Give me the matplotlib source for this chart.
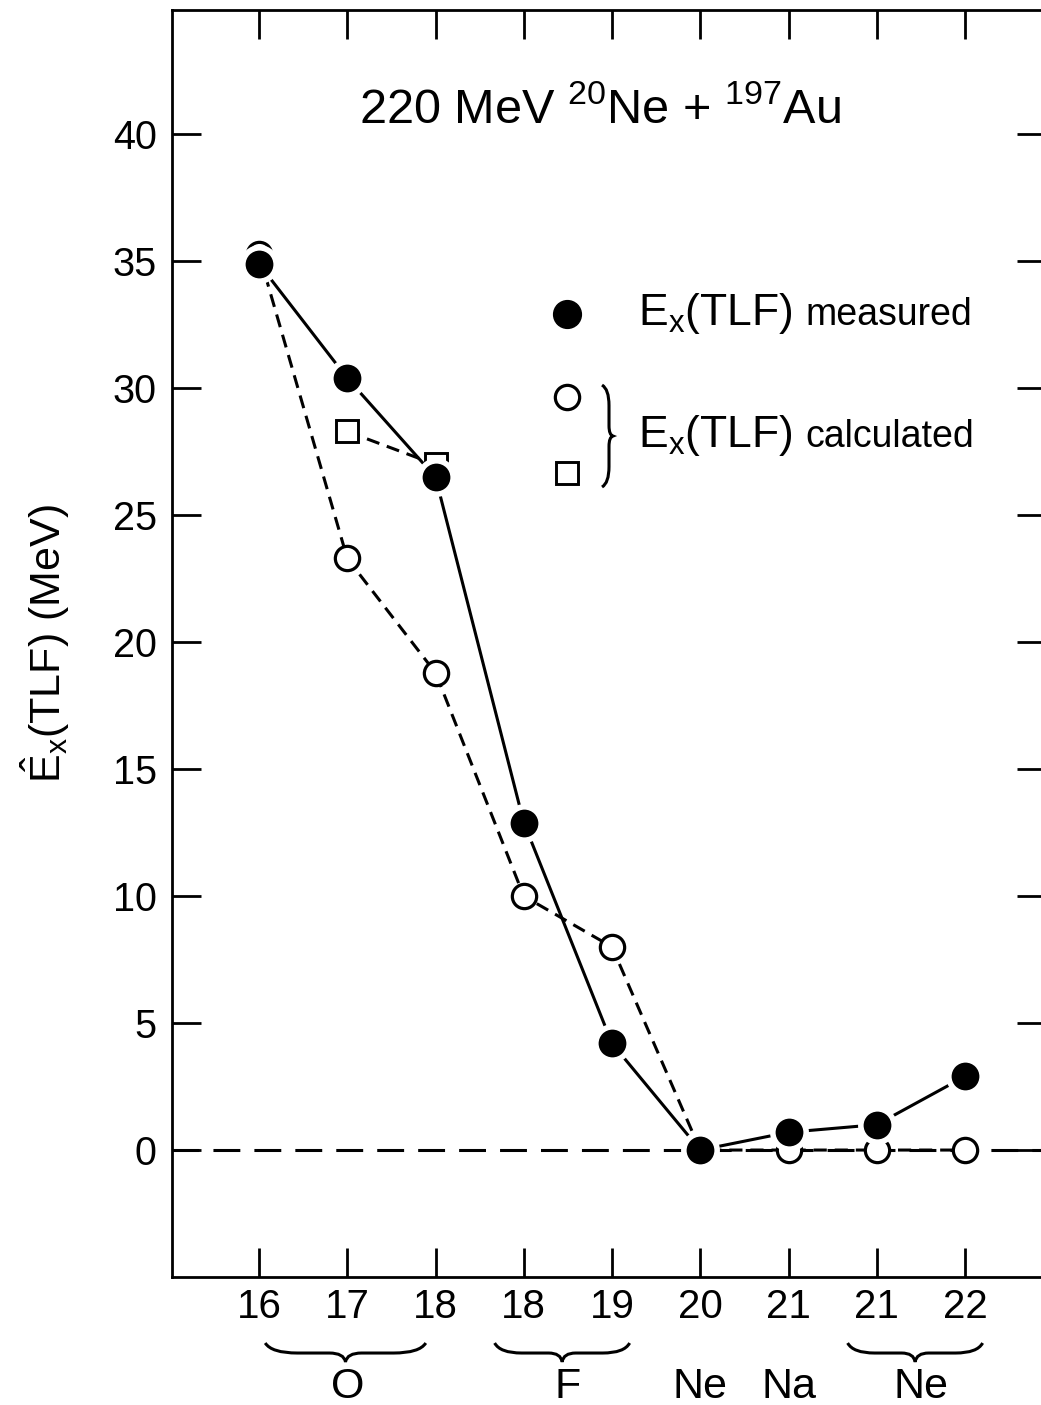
import matplotlib.pyplot as plt
import matplotlib.transforms as mtransforms
from matplotlib.path import Path
from matplotlib.patches import PathPatch

plt.rcParams['font.family'] = ['Liberation Sans', 'DejaVu Sans']
plt.rcParams['mathtext.fontset'] = 'custom'
plt.rcParams['mathtext.rm'] = 'Liberation Sans'
plt.rcParams['mathtext.it'] = 'Liberation Sans:italic'
plt.rcParams['mathtext.bf'] = 'Liberation Sans:bold'

# mass numbers of the target-like fragments, in plotting order
MASS_LABELS = ['16', '17', '18', '18', '19', '20', '21', '21', '22']
EX_MEASURED = [34.9, 30.4, 26.5, 12.9, 4.2, 0.0, 0.7, 1.0, 2.9]
EX_CALC_CIRCLE = [35.3, 23.3, 18.8, 10.0, 8.0, 0.0, 0.0, 0.0, 0.0]
SQUARE_IDX = [1, 2]
EX_CALC_SQUARE = [28.3, 27.0]

ELEMENTS = ['O', 'F', 'Ne', 'Na', 'Ne']
ELEM_FIRST = [0, 3, 5, 6, 7]
ELEM_LAST = [2, 4, 5, 6, 8]

TITLE = r'220 MeV $^{20}$Ne + $^{197}$Au'
YLABEL = r'$\hat{\mathrm{E}}_{\mathrm{x}}$(TLF) (MeV)'

# brace extents under the element groups (x in tick units)
BRACE_SPANS = [(0.07, 1.89), (2.67, 4.2), (6.67, 8.2)]

LW = 2.2


def brace_path(a0, a1, b_end, b_mid, b_tip, vertical=False):
    ac = 0.5 * (a0 + a1)
    w = a1 - a0
    pts = [(a0, b_end), (a0 + 0.04 * w, b_mid), (a0 + 0.2 * w, b_mid),
           (ac - 0.1 * w, b_mid),
           (ac - 0.01 * w, b_mid), (ac, b_tip),
           (ac + 0.01 * w, b_mid), (ac + 0.1 * w, b_mid),
           (a1 - 0.2 * w, b_mid),
           (a1 - 0.04 * w, b_mid), (a1, b_end)]
    codes = [Path.MOVETO, Path.CURVE3, Path.CURVE3, Path.LINETO,
             Path.CURVE3, Path.CURVE3, Path.CURVE3, Path.CURVE3,
             Path.LINETO, Path.CURVE3, Path.CURVE3]
    if vertical:
        pts = [(b, a) for a, b in pts]
    return Path(pts, codes)


fig = plt.figure(figsize=(10.41, 14.05), dpi=100)
ax = fig.add_axes([0.16523, 0.09110, 0.83958, 0.90178])

x = list(range(len(MASS_LABELS)))

ax.axhline(0, color='black', lw=LW, dashes=(8.8, 4.6), zorder=1)

ax.plot(x, EX_CALC_CIRCLE, color='black', lw=LW, dashes=(4.3, 2.6),
        marker='o', ms=17.5, mfc='white', mec='black', mew=2.3, zorder=3)
ax.plot(SQUARE_IDX, EX_CALC_SQUARE, color='black', lw=LW, dashes=(4.3, 2.6),
        marker='s', ms=16.5, mfc='white', mec='black', mew=2.1, zorder=3)
ax.plot(x, EX_MEASURED, color='black', lw=LW, marker='o', ms=24,
        mfc='black', mec='white', mew=4, zorder=4)

ax.set_xlim(-0.986, 8.918)
ax.set_ylim(-5, 44.9)
ax.set_xticks(x)
ax.set_xticklabels(MASS_LABELS)
ax.set_yticks(range(0, 41, 5))
ax.tick_params(axis='both', direction='in', length=21, width=2,
               top=True, right=True)
ax.tick_params(axis='x', labelsize=29, pad=8)
ax.tick_params(axis='y', labelsize=28.5, pad=11)
for sp in ax.spines.values():
    sp.set_linewidth(2)

ax.set_ylabel(YLABEL, fontsize=31)
ax.yaxis.set_label_coords(-0.145, 0.5)
ax.yaxis.label.set_va('center')

ax.text(0.4897, 0.911, TITLE, transform=ax.transAxes, ha='center',
        va='baseline', fontsize=35)

# element names and braces below the mass numbers
blend = mtransforms.blended_transform_factory(ax.transData, ax.transAxes)
for name, i0, i1 in zip(ELEMENTS, ELEM_FIRST, ELEM_LAST):
    ax.text(0.5 * (i0 + i1), -0.0955, name, transform=blend, ha='center',
            va='baseline', fontsize=31, clip_on=False)
for a0, a1 in BRACE_SPANS:
    p = brace_path(a0, a1, -0.0521, -0.060, -0.067)
    ax.add_patch(PathPatch(p, fill=False, lw=LW, color='black',
                           transform=blend, clip_on=False))

# hand-made key
ax.plot([0.4519], [0.7601], transform=ax.transAxes, marker='o', ms=20,
        color='black', clip_on=False)
ax.plot([0.4519], [0.6946], transform=ax.transAxes, marker='o', ms=17.5,
        mfc='white', mec='black', mew=2.3, clip_on=False)
ax.plot([0.4519], [0.6346], transform=ax.transAxes, marker='s', ms=16.5,
        mfc='white', mec='black', mew=2.1, clip_on=False)
vb = brace_path(0.6235, 0.704, 0.492, 0.5, 0.5046, vertical=True)
ax.add_patch(PathPatch(vb, fill=False, lw=LW, color='black',
                       transform=ax.transAxes, clip_on=False))

t1 = ax.text(0.5332, 0.7514, r'E$_{\mathrm{x}}$(TLF)', transform=ax.transAxes,
             fontsize=32, va='baseline')
ax.annotate('measured', xy=(1, 0.7514), xycoords=(t1, 'axes fraction'),
            xytext=(9, 0), textcoords='offset points', fontsize=27,
            va='baseline')
t2 = ax.text(0.5332, 0.6551, r'E$_{\mathrm{x}}$(TLF)', transform=ax.transAxes,
             fontsize=32, va='baseline')
ax.annotate('calculated', xy=(1, 0.6551), xycoords=(t2, 'axes fraction'),
            xytext=(9, 0), textcoords='offset points', fontsize=27,
            va='baseline')

fig.savefig('out.png', dpi=100)
